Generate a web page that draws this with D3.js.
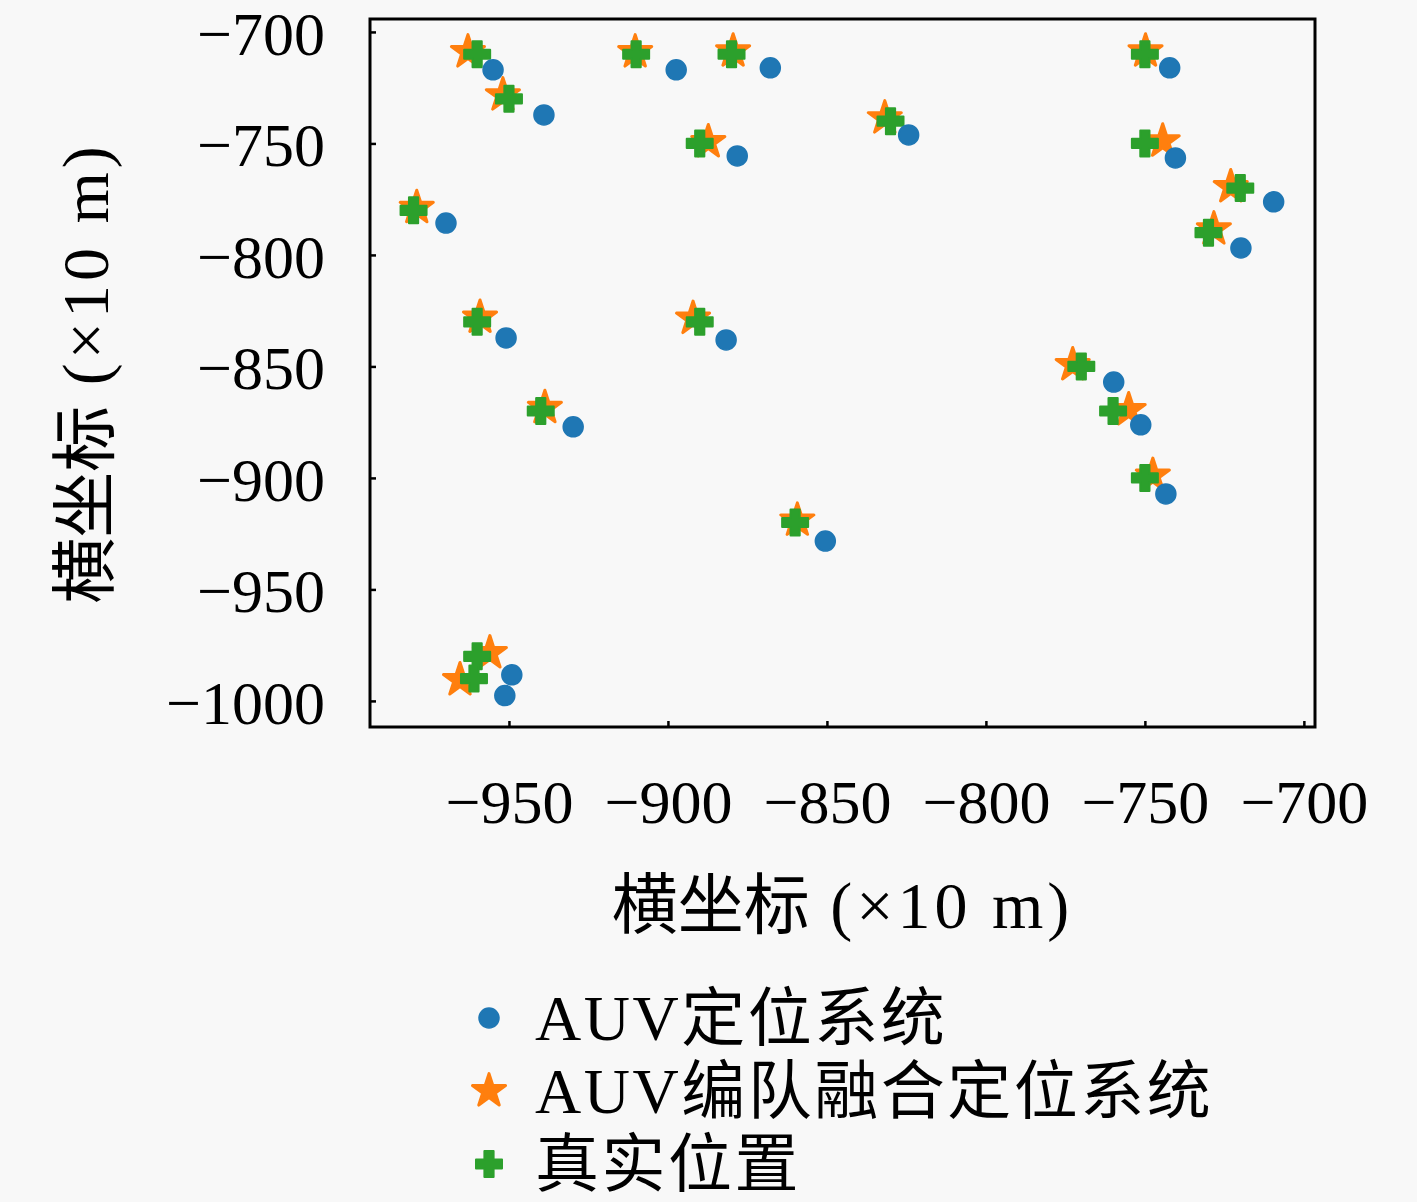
<!DOCTYPE html>
<html>
<head>
<meta charset="utf-8">
<script src="https://cdn.jsdelivr.net/npm/d3@7/dist/d3.min.js"></script>
<style>
	body { margin: 0; background: #f8f8f8; }
	text { font-family: 'Liberation Serif', 'Noto Sans CJK SC', serif; fill: #000; }
</style>
</head>
<body>
<svg id="chart"></svg>
<script>
// AUV定位系统 (blue dots)
const auvPoints = [
	[-955.0, -717.0], [-939.0, -737.2], [-897.4, -717.0], [-867.8, -716.1],
	[-824.3, -746.2], [-878.2, -755.6], [-742.2, -716.1], [-740.4, -756.5],
	[-709.5, -776.2], [-719.8, -796.9], [-969.8, -785.7], [-950.9, -837.2],
	[-881.7, -838.1], [-929.8, -877.1], [-759.8, -857.0], [-751.3, -876.2],
	[-743.4, -907.2], [-850.5, -928.3], [-949.1, -988.3], [-951.3, -997.6]
]
// AUV编队融合定位系统 (orange stars)
const fusedPoints = [
	[-962.9, -709.0], [-951.9, -728.3], [-910.3, -709.0], [-879.5, -708.6],
	[-831.8, -738.6], [-887.3, -749.3], [-749.8, -708.6], [-744.4, -749.0],
	[-723.0, -769.5], [-728.3, -788.4], [-979.0, -778.8], [-959.1, -828.0],
	[-892.1, -828.5], [-938.7, -868.5], [-772.7, -849.3], [-755.1, -869.5],
	[-747.5, -898.9], [-859.3, -919.0], [-956.0, -978.5], [-965.4, -990.6]
]
// 真实位置 (green plus)
const truePoints = [
	[-960, -710], [-950, -730], [-910, -710], [-880, -710],
	[-830, -740], [-890, -750], [-750, -710], [-750, -750],
	[-720, -770], [-730, -790], [-980, -780], [-960, -830],
	[-890, -830], [-940, -870], [-770, -850], [-760, -870],
	[-750, -900], [-860, -920], [-960, -980], [-961, -990]
]

const xTicks = [-950, -900, -850, -800, -750, -700]
const yTicks = [-700, -750, -800, -850, -900, -950, -1000]
const xDomain = [-993.7, -696.5]
const yDomain = [-694.2, -1011.7]
const axisLabelCn = '横坐标'
const axisLabelUnit = ' (×10 m)'
const legendLabels = ['AUV定位系统', 'AUV编队融合定位系统', '真实位置']
const colors = ['#1f77b4', '#ff7f0e', '#2ca02c']

let outerWidth = 1417
let outerHeight = 1202
let margin = {top: 19, right: 102, bottom: 475, left: 370}
let width = outerWidth - margin.left - margin.right
let height = outerHeight - margin.top - margin.bottom

const svg = d3.select('#chart')
	.attr('width', outerWidth)
	.attr('height', outerHeight)

svg.append('rect')
	.attr('width', outerWidth)
	.attr('height', outerHeight)
	.attr('fill', '#f8f8f8')

const g = svg.append('g')
	.attr('transform', `translate(${margin.left},${margin.top})`)

const xScale = d3.scaleLinear().domain(xDomain).range([0, width])
const yScale = d3.scaleLinear().domain(yDomain).range([0, height])

const xAxis = d3.axisBottom(xScale)
	.tickValues(xTicks)
	.tickFormat(d3.format('d'))
	.tickSizeInner(-6)
	.tickSizeOuter(0)
	.tickPadding(52)
const yAxis = d3.axisLeft(yScale)
	.tickValues(yTicks)
	.tickFormat(d3.format('d'))
	.tickSizeInner(-6)
	.tickSizeOuter(0)
	.tickPadding(45)

const xAxisGroup = g.append('g')
	.attr('transform', `translate(0,${height})`)
	.call(xAxis)
const yAxisGroup = g.append('g')
	.call(yAxis)

for (const ag of [xAxisGroup, yAxisGroup]) {
	ag.select('.domain').remove()
	ag.selectAll('.tick line').attr('stroke', '#000').attr('stroke-width', 2.5)
	ag.selectAll('.tick text')
		.attr('font-size', 62)
		.attr('font-family', "'Liberation Serif', serif")
}
yAxisGroup.selectAll('.tick text').attr('dy', '0.36em')

// frame
g.append('rect')
	.attr('width', width)
	.attr('height', height)
	.attr('fill', 'none')
	.attr('stroke', '#000')
	.attr('stroke-width', 3)

// axis labels
function axisTitle(sel) {
	sel.attr('text-anchor', 'middle')
		.attr('font-size', 66)
	sel.append('tspan').text(axisLabelCn)
	sel.append('tspan').attr('letter-spacing', 4).text(axisLabelUnit)
}
svg.append('text')
	.attr('x', margin.left + width / 2)
	.attr('y', 928)
	.call(axisTitle)
svg.append('text')
	.attr('transform', `translate(108,${margin.top + height / 2}) rotate(-90)`)
	.call(axisTitle)

// markers (same-colour edge, like matplotlib's default marker edge)
const starPath = d3.symbol().type(d3.symbolStar).size(340)()
const h = 13, a = 4.6
const plusPath = `M${-a},${-h}H${a}V${-a}H${h}V${a}H${a}V${h}H${-a}V${a}H${-h}V${-a}H${-a}Z`

const marks = g.append('g')
	.attr('stroke-linejoin', 'round')

marks.selectAll('path.fused')
	.data(fusedPoints)
	.join('path')
	.attr('class', 'fused')
	.attr('d', starPath)
	.attr('transform', d => `translate(${xScale(d[0])},${yScale(d[1])})`)
	.attr('fill', colors[1])
	.attr('stroke', colors[1])
	.attr('stroke-width', 3)

marks.selectAll('path.true')
	.data(truePoints)
	.join('path')
	.attr('class', 'true')
	.attr('d', plusPath)
	.attr('transform', d => `translate(${xScale(d[0])},${yScale(d[1])})`)
	.attr('fill', colors[2])
	.attr('stroke', colors[2])
	.attr('stroke-width', 2)

marks.selectAll('circle')
	.data(auvPoints)
	.join('circle')
	.attr('cx', d => xScale(d[0]))
	.attr('cy', d => yScale(d[1]))
	.attr('r', 10)
	.attr('fill', colors[0])
	.attr('stroke', colors[0])
	.attr('stroke-width', 1.5)

// legend
const legend = svg.append('g')
	.attr('transform', 'translate(489,1018)')
	.attr('stroke-linejoin', 'round')
const rowGap = 73

legend.append('circle')
	.attr('cx', 0).attr('cy', 0).attr('r', 10)
	.attr('fill', colors[0])
	.attr('stroke', colors[0])
	.attr('stroke-width', 1.5)
legend.append('path')
	.attr('d', starPath)
	.attr('transform', `translate(0,${rowGap})`)
	.attr('fill', colors[1])
	.attr('stroke', colors[1])
	.attr('stroke-width', 3)
legend.append('path')
	.attr('d', plusPath)
	.attr('transform', `translate(0,${rowGap * 2})`)
	.attr('fill', colors[2])
	.attr('stroke', colors[2])
	.attr('stroke-width', 2)

legend.selectAll('text')
	.data(legendLabels)
	.join('text')
	.attr('x', 46)
	.attr('y', (d, i) => 22 + i * rowGap)
	.attr('font-size', 64)
	.attr('letter-spacing', 2.5)
	.text(d => d)
</script>
</body>
</html>
